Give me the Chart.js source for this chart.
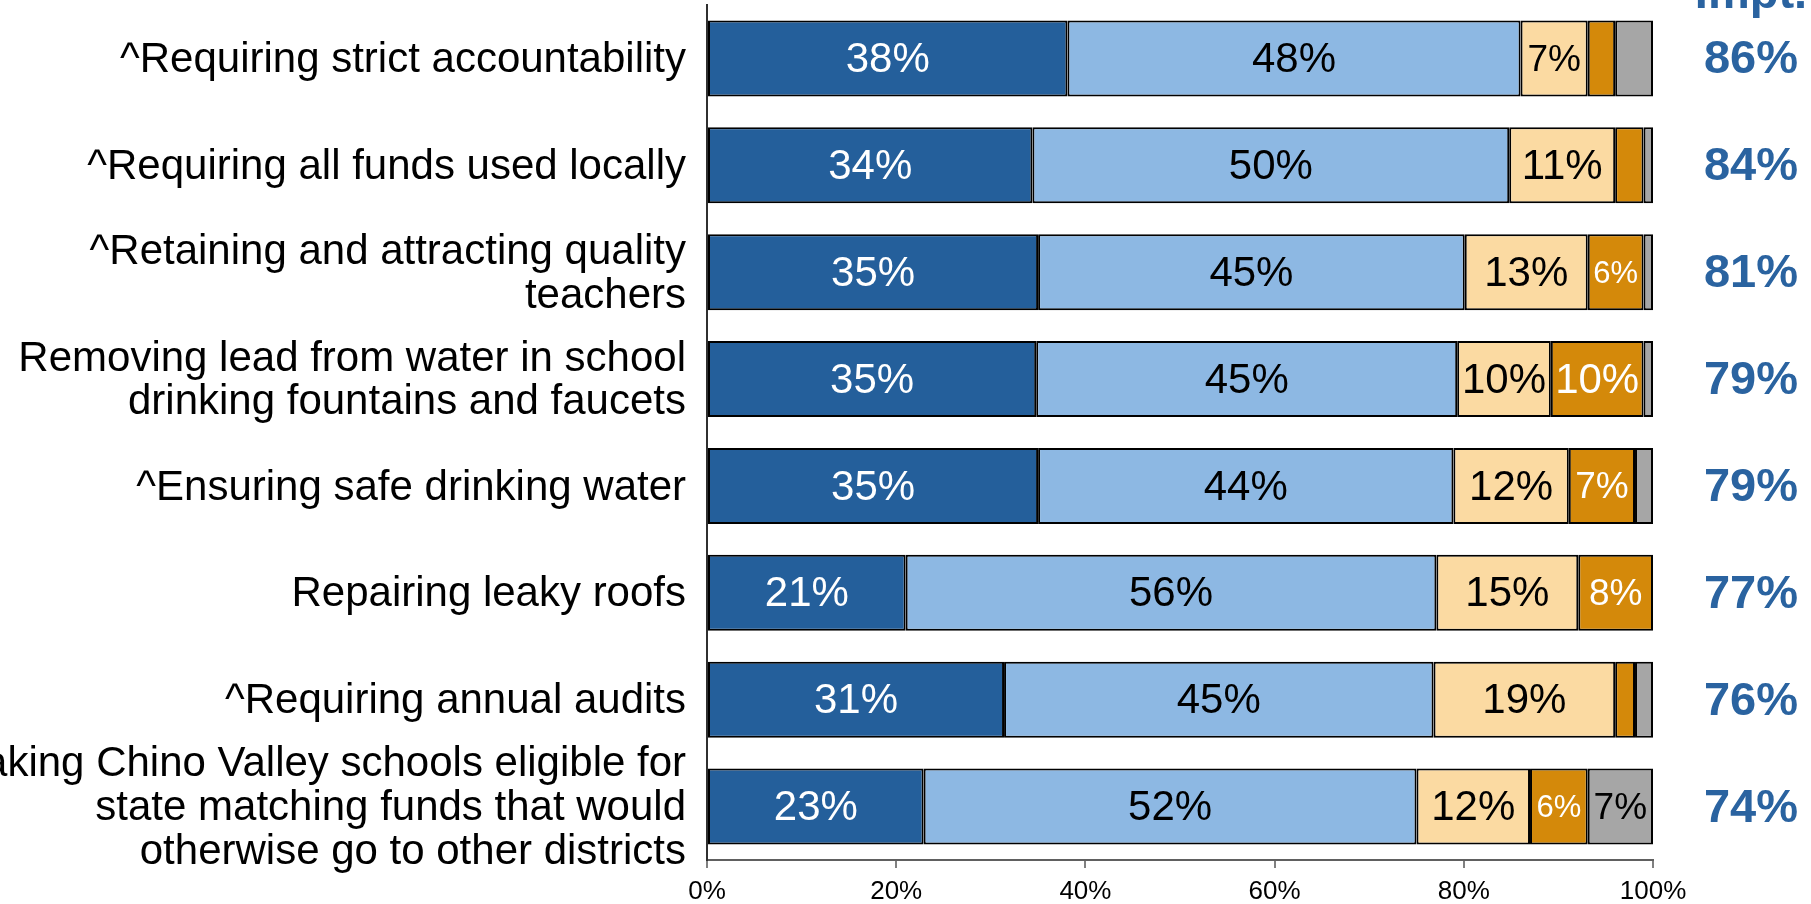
<!DOCTYPE html>
<html>
<head>
<meta charset="utf-8">
<script src="https://cdn.jsdelivr.net/npm/chart.js@4.4.1/dist/chart.umd.min.js"></script>
<style>
  body { margin: 0; background: #fff; }
  #wrap { width: 1811px; height: 904px; position: relative; }
</style>
</head>
<body>
<div id="wrap"><canvas id="chart"></canvas></div>
<script>
(() => {

    const FONT = '"Liberation Sans", Arial, sans-serif';

    // row labels, top to bottom
    const categories = [
        '^Requiring strict accountability',
        '^Requiring all funds used locally',
        ['^Retaining and attracting quality', 'teachers'],
        ['Removing lead from water in school', 'drinking fountains and faucets'],
        '^Ensuring safe drinking water',
        'Repairing leaky roofs',
        '^Requiring annual audits',
        ['Making Chino Valley schools eligible for', 'state matching funds that would', 'otherwise go to other districts']
    ];

    // segment widths (percent)
    const extremelyImpt = [38.1, 34.4, 35.0, 34.8, 35.0, 21.0, 31.4, 22.9];
    const veryImpt      = [47.9, 50.4, 45.1, 44.5, 43.9, 56.1, 45.4, 52.1];
    const smwtImpt      = [7.1, 11.2, 13.0, 9.9, 12.2, 15.0, 19.2, 12.0];
    const notImpt       = [2.9, 3.0, 5.9, 9.8, 7.0, 7.9, 2.1, 6.1];
    const dkNa          = [4.0, 1.0, 1.0, 1.0, 1.9, 0, 1.9, 6.9];

    // total important column
    const totalImpt = [86, 84, 81, 79, 79, 77, 76, 74];

    const xTicks = [0, 20, 40, 60, 80, 100];

    const segColors = ['#245f9b', '#8db8e3', '#fbdaa2', '#d4890a', '#a6a6a6'];
    const textColors = ['#ffffff', '#000000', '#000000', '#ffffff', '#000000'];

    const segLabels = {
        id: 'segLabels',
        afterDatasetsDraw(chart) {
            const c = chart.ctx;
            c.save();
            c.textAlign = 'center';
            c.textBaseline = 'middle';
            chart.data.datasets.forEach((ds, di) => {
                const meta = chart.getDatasetMeta(di);
                meta.data.forEach((bar, i) => {
                    const v = ds.data[i];
                    if (v < 5) return;
                    let size = 42;
                    if (v < 6.5) size = 31;
                    else if (v < 9.5) size = 37;
                    c.font = size + 'px ' + FONT;
                    c.fillStyle = textColors[di];
                    c.fillText(Math.round(v) + '%', (bar.x + bar.base) / 2, bar.y + 2);
                });
            });

            // totals on the right
            const y = chart.scales.y;
            c.font = 'bold 47px ' + FONT;
            c.fillStyle = '#2a63a0';
            totalImpt.forEach((t, i) => {
                c.fillText(t + '%', 1751, y.getPixelForValue(i) + 2);
            });
            c.textBaseline = 'alphabetic';
            c.fillText('Impt.', 1751, 8);
            c.restore();
        }
    };

    const ds = (label, data, i) => ({
        label: label,
        data: data,
        backgroundColor: segColors[i],
        borderColor: '#000000',
        borderWidth: 2,
        borderSkipped: false,
        barPercentage: 0.712,
        categoryPercentage: 1.0
    });

    new Chart(document.getElementById('chart'), {
        type: 'bar',
        data: {
            labels: categories,
            datasets: [
                ds('Extremely important', extremelyImpt, 0),
                ds('Very important', veryImpt, 1),
                ds('Somewhat important', smwtImpt, 2),
                ds('Not important', notImpt, 3),
                ds("DK/NA", dkNa, 4)
            ]
        },
        options: {
            indexAxis: 'y',
            responsive: true,
            maintainAspectRatio: false,
            animation: false,
            layout: { padding: { top: 5, right: 158, left: 0, bottom: 0 } },
            plugins: {
                legend: { display: false },
                tooltip: { enabled: false }
            },
            scales: {
                x: {
                    stacked: true,
                    min: 0,
                    max: 100,
                    afterBuildTicks: (scale) => { scale.ticks = xTicks.map(v => ({ value: v })); },
                    afterFit: (scale) => { scale.height = 44; scale.paddingLeft = 0; scale.paddingRight = 0; },
                    grid: { drawOnChartArea: false, drawTicks: true, tickLength: 8, color: '#808080', lineWidth: 2 },
                    border: { display: true, color: '#606060', width: 2 },
                    ticks: {
                        color: '#000000',
                        padding: 8,
                        maxRotation: 0,
                        font: { family: FONT, size: 26 },
                        callback: (v) => v + '%'
                    }
                },
                y: {
                    stacked: true,
                    grid: { display: false, drawTicks: false },
                    border: { display: true, color: '#303030', width: 2 },
                    afterFit: (scale) => { scale.width = 707; scale.paddingTop = 0; scale.paddingBottom = 0; },
                    ticks: {
                        autoSkip: false,
                        color: '#000000',
                        padding: 21,
                        labelOffset: 2,
                        font: { family: FONT, size: 42, lineHeight: 1.04 }
                    }
                }
            }
        },
        plugins: [segLabels]
    });
})();
</script>
</body>
</html>
